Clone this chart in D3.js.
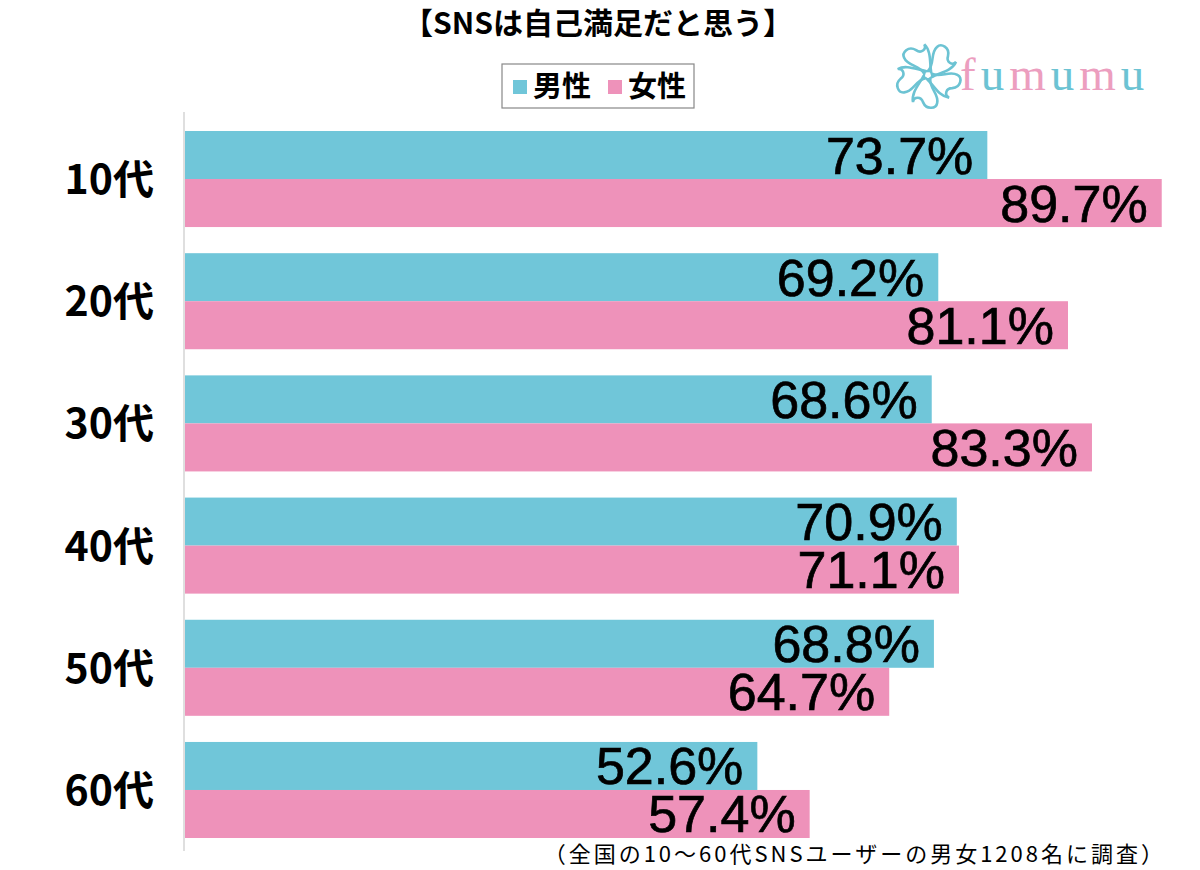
<!DOCTYPE html>
<html><head><meta charset="utf-8">
<script src="https://cdn.jsdelivr.net/npm/d3@7"></script>
<style>
body{margin:0;background:#fff;}
svg{display:block;}
</style></head>
<body>
<svg id="chart" width="1200" height="870"></svg>
<script>
const categories = ["10代","20代","30代","40代","50代","60代"];
const seriesNames = ["男性","女性"];
const maleValues = [73.7, 69.2, 68.6, 70.9, 68.8, 52.6];
const femaleValues = [89.7, 81.1, 83.3, 71.1, 64.7, 57.4];
const colors = ["#70c6d9", "#ee92ba"];
const titleText = "【SNSは自己満足だと思う】";
const noteText = "（全国の10〜60代SNSユーザーの男女1208名に調査）";

const svg = d3.select("#chart");
const jp = "'Noto Sans CJK JP','Noto Sans',sans-serif";
const latin = "'Liberation Sans',Arial,sans-serif";

const x = d3.scaleLinear().domain([0, 100]).range([184, 1274]);
const y = d3.scaleBand().domain(categories).range([131, 838]).paddingInner(0.214).paddingOuter(0);
const ys = d3.scaleBand().domain(seriesNames).range([0, y.bandwidth()]).padding(0);

const data = categories.map((c, i) => ({cat: c, vals: [maleValues[i], femaleValues[i]]}));

// axis line
svg.append("line").attr("x1", 184).attr("x2", 184).attr("y1", 112).attr("y2", 851)
  .attr("stroke", "#d4d4d4").attr("stroke-width", 1.5);

const g = svg.selectAll("g.cat").data(data).join("g").attr("class", "cat")
  .attr("transform", d => `translate(0,${y(d.cat)})`);

g.selectAll("rect").data(d => d.vals.map((v, j) => ({v, s: seriesNames[j], j})))
  .join("rect")
  .attr("x", x(0) + 1)
  .attr("y", d => ys(d.s))
  .attr("width", d => x(d.v) - x(0) - 1)
  .attr("height", ys.bandwidth())
  .attr("fill", d => colors[d.j]);

g.selectAll("text.val").data(d => d.vals.map((v, j) => ({v, s: seriesNames[j], j})))
  .join("text").attr("class", "val")
  .attr("x", d => x(d.v) - 14)
  .attr("y", d => ys(d.s) + ys.bandwidth() / 2 + 18.5)
  .attr("text-anchor", "end")
  .attr("font-family", latin)
  .attr("font-size", 52)
  .attr("fill", "#000")
  .attr("stroke", "#000").attr("stroke-width", 0.7)
  .text(d => d.v.toFixed(1) + "%");

// category labels
svg.selectAll("text.cat").data(categories).join("text").attr("class", "cat")
  .attr("x", 154)
  .attr("y", d => y(d) + y.bandwidth() / 2 + 15)
  .attr("text-anchor", "end")
  .attr("font-family", jp)
  .attr("font-weight", "bold")
  .attr("font-size", 41)
  .text(d => d);

// title
svg.append("text").attr("x", 598).attr("y", 34).attr("text-anchor", "middle")
  .attr("font-family", jp).attr("font-weight", "bold").attr("font-size", 30)
  .text(titleText);

// legend
const lg = svg.append("g");
lg.append("rect").attr("x", 502).attr("y", 64).attr("width", 192).attr("height", 44)
  .attr("fill", "#fff").attr("stroke", "#888").attr("stroke-width", 1.2);
const legX = [513, 608];
seriesNames.forEach((s, i) => {
  lg.append("rect").attr("x", legX[i]).attr("y", 80).attr("width", 14).attr("height", 14).attr("fill", colors[i]);
  lg.append("text").attr("x", legX[i] + 20).attr("y", 97).attr("font-family", jp)
    .attr("font-weight", "bold").attr("font-size", 29).text(s);
});

// logo
const logo = svg.append("g").attr("transform", "translate(928,75)");
for (let k = 0; k < 5; k++) {
  logo.append("path")
    .attr("d", "M0,-4 C7,-11 2,-22 9,-28 C13,-32 22,-28 20,-19 C18,-13 24,-9 28,-13 C24,-4 11,-2 4,2")
    .attr("transform", `rotate(${k * 72})`)
    .attr("fill", "none").attr("stroke", "#6cc3d3").attr("stroke-width", 2.6).attr("stroke-linecap", "round");
}
logo.append("circle").attr("r", 4).attr("fill", "none").attr("stroke", "#6cc3d3").attr("stroke-width", 2);
const word = "fumumu";
const wcolors = ["#ec9ebf", "#6cc3d3", "#ec9ebf", "#6cc3d3", "#ec9ebf", "#6cc3d3"];
const wt = svg.append("text").attr("x", 960).attr("y", 90)
  .attr("font-family", "'Liberation Serif','DejaVu Serif',serif").attr("font-size", 47)
  .attr("letter-spacing", 5);
word.split("").forEach((ch, i) => wt.append("tspan").attr("fill", wcolors[i]).text(ch));

// footnote
svg.append("text").attr("x", 1166).attr("y", 862).attr("text-anchor", "end")
  .attr("font-family", jp).attr("font-size", 22).attr("letter-spacing", 3).text(noteText);
</script>
</body></html>
